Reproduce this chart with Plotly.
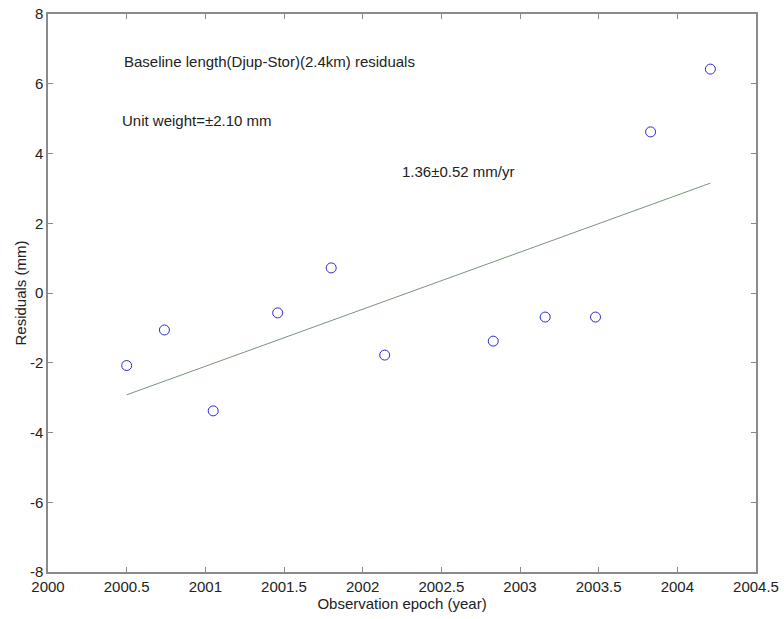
import plotly.graph_objects as go

epoch = [2000.50, 2000.74, 2001.05, 2001.46, 2001.80, 2002.14, 2002.83, 2003.16, 2003.48, 2003.83, 2004.21]
residuals = [-2.08, -1.06, -3.38, -0.57, 0.72, -1.78, -1.38, -0.69, -0.69, 4.62, 6.42]
fit_x = [2000.50, 2004.21]
fit_y = [-2.92, 3.15]
x_ticks = [2000, 2000.5, 2001, 2001.5, 2002, 2002.5, 2003, 2003.5, 2004, 2004.5]
x_tick_text = ["2000", "2000.5", "2001", "2001.5", "2002", "2002.5", "2003", "2003.5", "2004", "2004.5"]
y_ticks = [-8, -6, -4, -2, 0, 2, 4, 6, 8]
y_tick_text = ["-8", "-6", "-4", "-2", "0", "2", "4", "6", "8"]

font_family = "Liberation Sans, Arial, sans-serif"

fig = go.Figure()
fig.add_trace(go.Scatter(x=fit_x, y=fit_y, mode="lines",
                         line=dict(color="#7a947a", width=1), showlegend=False))
fig.add_trace(go.Scatter(x=epoch, y=residuals, mode="markers",
                         marker=dict(symbol="circle-open", size=10, color="#2b2bd0", line=dict(width=1)),
                         showlegend=False))

axis_common = dict(showgrid=False, zeroline=False, showline=True, linecolor="#8a8a8a", linewidth=1.5,
                   mirror="ticks", ticks="inside", ticklen=5, tickcolor="#8a8a8a", automargin=False,
                   tickfont=dict(family=font_family, size=15, color="#222"))

fig.update_xaxes(range=[2000, 2004.5], tickvals=x_ticks, ticktext=x_tick_text,
                 title=dict(text="Observation epoch (year)", font=dict(family=font_family, size=15, color="#222"), standoff=0),
                 **axis_common)
fig.update_yaxes(range=[-8, 8], tickvals=y_ticks, ticktext=y_tick_text,
                 title=dict(text="Residuals (mm)", font=dict(family=font_family, size=15, color="#222"), standoff=0),
                 **axis_common)

annots = [
    dict(x=2000.47, y=6.65, text="Baseline length(Djup-Stor)(2.4km) residuals"),
    dict(x=2000.455, y=4.95, text="Unit weight=±2.10 mm"),
    dict(x=2002.24, y=3.48, text="1.36±0.52 mm/yr"),
]
for a in annots:
    fig.add_annotation(x=a["x"], y=a["y"], text=a["text"], showarrow=False, xanchor="left", yanchor="middle",
                       font=dict(family=font_family, size=15, color="#222"))

fig.update_layout(width=784, height=619, margin=dict(l=48, r=28, t=14, b=47),
                  paper_bgcolor="white", plot_bgcolor="white")

fig.write_html("out.html")
